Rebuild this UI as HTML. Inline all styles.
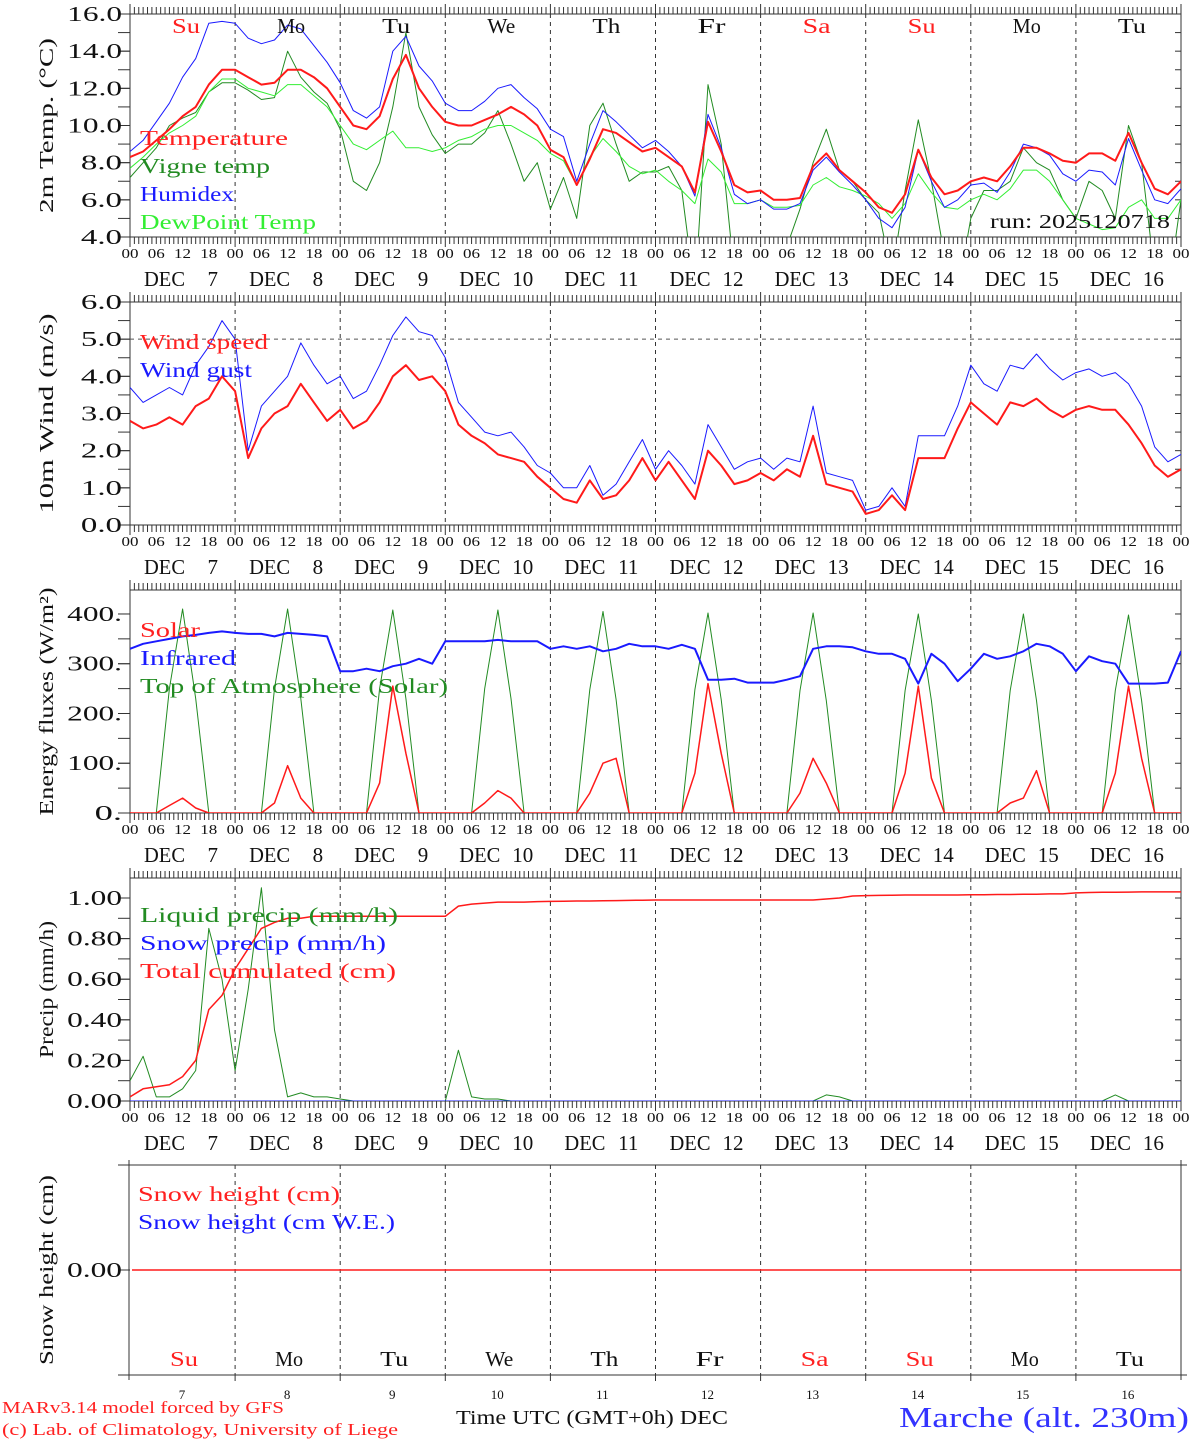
<!DOCTYPE html>
<html><head><meta charset="utf-8"><style>
html,body{margin:0;padding:0;background:#fff;}
svg{display:block;font-family:"Liberation Serif",serif;}
</style></head><body>
<svg id="chart" width="1194" height="1440" viewBox="0 0 1194 1440" xmlns="http://www.w3.org/2000/svg">
<defs></defs>
</svg>
<script>
// ---------- data (3-hourly, Dec 7 00UTC -> Dec 17 00UTC) ----------
const dayNumbers=[7,8,9,10,11,12,13,14,15,16];
const dayNames=["Su","Mo","Tu","We","Th","Fr","Sa","Su","Mo","Tu"];
const hourLabels=["00","06","12","18"];
const temperature=[8.3,8.6,9.2,9.8,10.5,11.0,12.2,13.0,13.0,12.6,12.2,12.3,13.0,13.0,12.6,12.0,11.0,10.0,9.8,10.5,12.5,13.8,12.0,11.0,10.2,10.0,10.0,10.3,10.6,11.0,10.6,10.0,8.7,8.3,6.8,8.2,9.8,9.6,9.1,8.6,8.8,8.3,7.8,6.4,10.2,8.6,6.8,6.4,6.5,6.0,6.0,6.1,7.8,8.5,7.6,7.0,6.4,5.6,5.3,6.3,8.7,7.2,6.3,6.5,7.0,7.2,7.0,7.8,8.8,8.8,8.5,8.1,8.0,8.5,8.5,8.1,9.6,8.0,6.6,6.3,7.0];
const vigneTemp=[7.2,8.0,8.8,10.0,10.4,10.7,11.8,12.3,12.3,11.9,11.4,11.5,14.0,12.6,11.8,11.2,9.8,7.0,6.5,8.0,11.0,15.0,11.0,9.5,8.5,9.0,9.0,9.6,10.8,9.0,7.0,8.0,5.5,7.2,5.0,10.0,11.2,9.0,7.0,7.5,7.5,7.8,6.5,1.0,12.2,9.0,2.0,2.0,2.0,2.5,3.5,5.5,8.0,9.8,7.6,7.0,6.0,5.3,2.0,6.5,10.3,7.0,3.0,1.0,5.0,6.5,6.5,7.0,8.8,8.0,7.6,6.0,5.0,7.0,6.5,5.0,10.0,8.0,2.0,1.0,6.0];
const humidex=[8.6,9.2,10.2,11.2,12.6,13.6,15.5,15.6,15.5,14.7,14.4,14.6,15.4,15.2,14.3,13.4,12.3,10.8,10.4,11.0,14.0,14.8,13.2,12.4,11.2,10.8,10.8,11.3,12.0,12.2,11.5,10.9,9.8,9.4,7.0,9.0,10.8,10.2,9.5,8.8,9.2,8.6,7.8,6.2,10.6,8.8,6.3,5.8,6.0,5.5,5.5,5.8,7.6,8.3,7.5,6.8,6.0,5.0,4.5,5.6,8.7,7.0,5.6,6.0,6.8,6.9,6.4,7.5,9.0,8.8,8.4,7.4,7.0,7.6,7.5,6.8,9.3,7.6,6.0,5.8,6.6];
const dewPoint=[7.7,8.3,9.0,9.6,10.0,10.5,11.8,12.5,12.5,12.0,11.8,11.6,12.2,12.2,11.6,11.0,10.0,9.0,8.7,9.2,9.7,8.8,8.8,8.6,8.8,9.2,9.4,9.8,10.0,10.0,9.6,9.2,8.5,8.1,6.8,8.3,9.3,8.6,7.8,7.4,7.6,7.0,6.5,5.8,8.2,7.5,5.8,5.8,6.0,5.6,5.6,5.7,6.8,7.2,6.7,6.5,6.2,5.8,5.0,5.8,7.4,6.4,5.6,5.5,6.0,6.3,6.0,6.6,7.6,7.6,7.0,6.0,5.0,4.7,4.4,4.5,5.6,6.0,5.0,5.0,6.0];
const windSpeed=[2.8,2.6,2.7,2.9,2.7,3.2,3.4,4.0,3.6,1.8,2.6,3.0,3.2,3.8,3.3,2.8,3.1,2.6,2.8,3.3,4.0,4.3,3.9,4.0,3.6,2.7,2.4,2.2,1.9,1.8,1.7,1.3,1.0,0.7,0.6,1.2,0.7,0.8,1.2,1.8,1.2,1.7,1.2,0.7,2.0,1.6,1.1,1.2,1.4,1.2,1.5,1.3,2.4,1.1,1.0,0.9,0.3,0.4,0.8,0.4,1.8,1.8,1.8,2.6,3.3,3.0,2.7,3.3,3.2,3.4,3.1,2.9,3.1,3.2,3.1,3.1,2.7,2.2,1.6,1.3,1.5];
const windGust=[3.7,3.3,3.5,3.7,3.5,4.3,4.8,5.5,5.0,2.0,3.2,3.6,4.0,4.9,4.3,3.8,4.0,3.4,3.6,4.3,5.1,5.6,5.2,5.1,4.5,3.3,2.9,2.5,2.4,2.5,2.1,1.6,1.4,1.0,1.0,1.6,0.8,1.1,1.7,2.3,1.5,2.0,1.6,1.1,2.7,2.1,1.5,1.7,1.8,1.5,1.8,1.7,3.2,1.4,1.3,1.2,0.4,0.5,1.0,0.5,2.4,2.4,2.4,3.2,4.3,3.8,3.6,4.3,4.2,4.6,4.2,3.9,4.1,4.2,4.0,4.1,3.8,3.2,2.1,1.7,1.9];
const solar=[0,0,0,15,30,10,0,0, 0,0,0,20,95,30,0,0, 0,0,0,60,255,120,0,0, 0,0,0,20,45,30,0,0, 0,0,0,40,100,110,0,0, 0,0,0,80,260,120,0,0, 0,0,0,40,110,60,0,0, 0,0,0,80,255,70,0,0, 0,0,0,20,30,85,0,0, 0,0,0,80,255,110,0,0, 0];
const infrared=[330,340,345,350,355,358,362,365,362,360,360,355,362,360,358,355,285,285,290,285,295,300,310,300,345,345,345,345,348,345,345,345,330,335,330,335,325,330,340,335,335,330,338,330,268,268,270,262,262,262,268,275,330,335,335,333,325,320,320,310,260,320,300,265,290,320,310,315,325,340,335,320,285,315,305,300,260,260,260,262,325];
const toaSolar=[0,0,0,250,410,230,0,0, 0,0,0,250,410,230,0,0, 0,0,0,250,408,230,0,0, 0,0,0,250,408,230,0,0, 0,0,0,248,405,228,0,0, 0,0,0,248,402,228,0,0, 0,0,0,246,402,226,0,0, 0,0,0,246,400,226,0,0, 0,0,0,246,400,226,0,0, 0,0,0,246,398,226,0,0, 0];
const liquidPrecip=[0.10,0.22,0.02,0.02,0.06,0.15,0.85,0.60,0.15,0.55,1.05,0.35,0.02,0.04,0.02,0.02,0.01,0,0,0,0,0,0,0,0,0.25,0.02,0.01,0.01,0,0,0,0,0,0,0,0,0,0,0,0,0,0,0,0,0,0,0,0,0,0,0,0,0.03,0.02,0,0,0,0,0,0,0,0,0,0,0,0,0,0,0,0,0,0,0,0,0.03,0,0,0,0,0];
const snowPrecip=[0,0,0,0,0,0,0,0,0,0,0,0,0,0,0,0,0,0,0,0,0,0,0,0,0,0,0,0,0,0,0,0,0,0,0,0,0,0,0,0,0,0,0,0,0,0,0,0,0,0,0,0,0,0,0,0,0,0,0,0,0,0,0,0,0,0,0,0,0,0,0,0,0,0,0,0,0,0,0,0,0];
const totalCumulated=[0.02,0.06,0.07,0.08,0.12,0.20,0.45,0.52,0.65,0.75,0.85,0.88,0.90,0.90,0.91,0.91,0.91,0.91,0.91,0.91,0.91,0.91,0.91,0.91,0.91,0.96,0.97,0.975,0.98,0.98,0.98,0.982,0.983,0.984,0.985,0.985,0.986,0.987,0.988,0.989,0.99,0.99,0.99,0.99,0.99,0.99,0.99,0.99,0.99,0.99,0.99,0.99,0.99,0.995,1.0,1.01,1.012,1.013,1.014,1.015,1.015,1.015,1.015,1.015,1.016,1.016,1.017,1.017,1.018,1.018,1.02,1.02,1.025,1.027,1.028,1.028,1.029,1.03,1.03,1.03,1.03];
const snowHeight=[0,0];
const yTicks1=[4,6,8,10,12,14,16];
const yTicks2=[0,1,2,3,4,5,6];
const yTicks3=[0,100,200,300,400];
const yTicks4=[0,0.2,0.4,0.6,0.8,1.0];

// ---------- drawing ----------
const NS="http://www.w3.org/2000/svg";
const svg=document.getElementById('chart');
const X0=130,X1=1181,NDAYS=10;
const xDay=d=>X0+(X1-X0)*d/NDAYS;
const xStep=i=>X0+(X1-X0)*i/(NDAYS*8);
function el(tag,attrs,parent,text){const e=document.createElementNS(NS,tag);for(const k in attrs)e.setAttribute(k,attrs[k]);if(text!==undefined)e.textContent=text;(parent||svg).appendChild(e);return e;}
function txt(x,y,s,size,fill,anchor,parent,len){const a={x:x,y:y,'font-size':size,fill:fill,'text-anchor':anchor||'start'};if(len){a.textLength=len;a.lengthAdjust='spacingAndGlyphs';}return el('text',a,parent,s);}

const panels=[
 {name:'temperature-panel',top:14,bot:237,min:4,max:16,ticks:yTicks1,minor:1,dec:1,title:'2m Temp. (\u00B0C)',tl:175},
 {name:'wind-panel',top:302,bot:525,min:0,max:6,ticks:yTicks2,minor:0.5,dec:1,title:'10m Wind (m/s)',tl:200},
 {name:'energy-panel',top:590,bot:813,min:0,max:448.2,ticks:yTicks3,minor:50,dec:-1,title:'Energy fluxes (W/m\u00B2)',tl:228},
 {name:'precip-panel',top:878,bot:1101,min:0,max:1.0985,ticks:yTicks4,minor:0.1,dec:2,title:'Precip (mm/h)',tl:137},
];
function yS(p,v){return p.bot-(v-p.min)/(p.max-p.min)*(p.bot-p.top);}

panels.forEach((p,pi)=>{
  const g=el('g',{},svg);
  
  
  const cid='clip'+pi;
  const cp=el('clipPath',{id:cid},svg.querySelector('defs'));
  el('rect',{x:X0,y:p.top,width:X1-X0,height:p.bot-p.top},cp);
  for(let d=1;d<NDAYS;d++){const l=el('line',{x1:xDay(d),x2:xDay(d),y1:p.top,y2:p.bot,stroke:'#333','stroke-width':1,'stroke-dasharray':'4,4'},g);}
  for(let h=0;h<=NDAYS*24;h++){const x=X0+(X1-X0)*h/(NDAYS*24);const len=(h%24===0)?10:7;
    el('line',{x1:x,x2:x,y1:p.top,y2:p.top-len,stroke:'#333','stroke-width':1},g);
    el('line',{x1:x,x2:x,y1:p.bot,y2:p.bot+len,stroke:'#333','stroke-width':1},g);}
  el('rect',{x:X0,y:p.top,width:X1-X0,height:p.bot-p.top,fill:'none',stroke:'#333','stroke-width':1},g);
  for(let v=p.min;v<=p.max+1e-9;v+=p.minor){const y=yS(p,v);el('line',{x1:X0,x2:X0-12,y1:y,y2:y,stroke:'#333'},g);el('line',{x1:X1,x2:X1-6,y1:y,y2:y,stroke:'#333'},g);}
  p.ticks.forEach(v=>{const y=yS(p,v);el('line',{x1:X0,x2:X0-12,y1:y,y2:y,stroke:'#333'},g);
    const s=p.dec<0?(v+'.'):v.toFixed(p.dec);const t=txt(122,y+7,s,21,'#111','end',g,s.length*13.7);});
  const yt=el('text',{x:0,y:0,'font-size':20,fill:'#111','text-anchor':'middle',textLength:p.tl,lengthAdjust:'spacingAndGlyphs',transform:`translate(53,${(p.top+p.bot)/2}) rotate(-90)`},g,p.title);
  
  for(let d=0;d<=NDAYS;d++){for(let k=0;k<4;k++){if(d===NDAYS&&k>0)break;const x=X0+(X1-X0)*(d*4+k)/(NDAYS*4);
      const t=txt(x,p.bot+21,hourLabels[k],14,'#111','middle',g,17);}}
  for(let d=0;d<NDAYS;d++){const t=txt(xDay(d)+14,p.bot+49,'DEC',21,'#111','start',g,41);
      const n=txt(xDay(d)+88,p.bot+49,String(dayNumbers[d]),21,'#111','end',g);}
  p.g=g;p.cid=cid;
});

function series(p,arr,color,w,name){const pts=arr.map((v,i)=>xStep(i).toFixed(1)+','+yS(p,v).toFixed(1)).join(' ');
  const l=el('polyline',{points:pts,fill:'none',stroke:color,'stroke-width':w,'stroke-linejoin':'round','clip-path':`url(#${p.cid})`},p.g);
  return l;}
function legend(p,items,y0){items.forEach((it,i)=>{const t=txt(140,y0+i*28,it[0],21,it[1],'start',p.g,it[2]);});}

const P1=panels[0];
series(P1,vigneTemp,'#228B22',1,'vigne-temp-line');
series(P1,dewPoint,'#33ee33',1,'dewpoint-line');
series(P1,humidex,'#1a1aff',1,'humidex-line');
series(P1,temperature,'#ff1a1a',2,'temperature-line');
legend(P1,[['Temperature','#ff2020',148],['Vigne temp','#228B22',130],['Humidex','#1a1aff',94],['DewPoint Temp','#33ee33',176]],145);
dayNames.forEach((n,d)=>{const red=(n==='Su'||n==='Sa');const t=txt(xDay(d)+56,33,n,21,red?'#ff2020':'#111','middle',P1.g,n.length*14);});
{const t=txt(1170,228,'run: 2025120718',20,'#111','end',P1.g,180);}

const P2=panels[1];
{const l=el('line',{x1:X0,x2:X1,y1:yS(P2,5),y2:yS(P2,5),stroke:'#555','stroke-dasharray':'4,4'},P2.g);}
series(P2,windGust,'#1a1aff',1,'wind-gust-line');
series(P2,windSpeed,'#ff1a1a',2,'wind-speed-line');
legend(P2,[['Wind speed','#ff2020',128],['Wind gust','#1a1aff',112]],349);

const P3=panels[2];
series(P3,toaSolar,'#228B22',1,'toa-solar-line');
series(P3,solar,'#ff1a1a',1.5,'solar-line');
series(P3,infrared,'#1a1aff',2,'infrared-line');
legend(P3,[['Solar','#ff2020',60],['Infrared','#1a1aff',96],['Top of Atmosphere (Solar)','#228B22',308]],637);

const P4=panels[3];
series(P4,liquidPrecip,'#228B22',1,'liquid-precip-line');
series(P4,snowPrecip,'#1a1aff',1,'snow-precip-line');
series(P4,totalCumulated,'#ff1a1a',1.5,'total-cumulated-line');
legend(P4,[['Liquid precip (mm/h)','#228B22',258],['Snow precip (mm/h)','#1a1aff',246],['Total cumulated (cm)','#ff2020',256]],922);

const g5=el('g',{},svg);


const T5=1165,B5=1375;
el('line',{x1:118,x2:X1+6,y1:T5,y2:T5,stroke:'#333'},g5);
el('line',{x1:118,x2:X1+6,y1:B5,y2:B5,stroke:'#333'},g5);
el('line',{x1:X0-1,x2:X0-1,y1:T5-5,y2:B5+5,stroke:'#333'},g5);
el('line',{x1:X1,x2:X1,y1:T5-5,y2:B5+5,stroke:'#333'},g5);
for(let d=1;d<NDAYS;d++){el('line',{x1:xDay(d),x2:xDay(d),y1:T5,y2:B5,stroke:'#333','stroke-dasharray':'4,4'},g5);el('line',{x1:xDay(d),x2:xDay(d),y1:B5,y2:B5+6,stroke:'#333'},g5);}
const y5=v=>1270-v*100;
el('line',{x1:118,x2:X0,y1:1270,y2:1270,stroke:'#333'},g5);
{const t=txt(122,1277,'0.00',21,'#111','end',g5,55);}
{const l=el('line',{x1:X0+2,x2:X1,y1:y5(snowHeight[0]),y2:y5(snowHeight[1]),stroke:'#ff1a1a','stroke-width':1.5},g5);}
{const yt=el('text',{x:0,y:0,'font-size':20,fill:'#111','text-anchor':'middle',textLength:190,lengthAdjust:'spacingAndGlyphs',transform:'translate(53,1270) rotate(-90)'},g5,'Snow height (cm)');}
[['Snow height (cm)','#ff2020',202,1201],['Snow height (cm W.E.)','#1a1aff',257,1229]].forEach(it=>{const t=el('text',{x:138,y:it[3],'font-size':21,fill:it[1],textLength:it[2],lengthAdjust:'spacingAndGlyphs'},g5,it[0]);});
dayNames.forEach((n,d)=>{const red=(n==='Su'||n==='Sa');const t=txt(xDay(d)+54,1366,n,21,red?'#ff2020':'#111','middle',g5,n.length*14);
  const m=txt(xDay(d)+52,1399,String(dayNumbers[d]),13,'#111','middle',g5);});
{const t=txt(456,1424,'Time UTC (GMT+0h) DEC',20,'#111','start',svg,272);}
{const t=txt(899,1427,'Marche (alt. 230m)',28,'#3333ff','start',svg,290);}
{const t=txt(2,1413,'MARv3.14 model forced by GFS',17,'#ff2020','start',svg,282);}
{const t=txt(2,1435,'(c) Lab. of Climatology, University of Liege',17,'#ff2020','start',svg,396);}
</script>
</body></html>
